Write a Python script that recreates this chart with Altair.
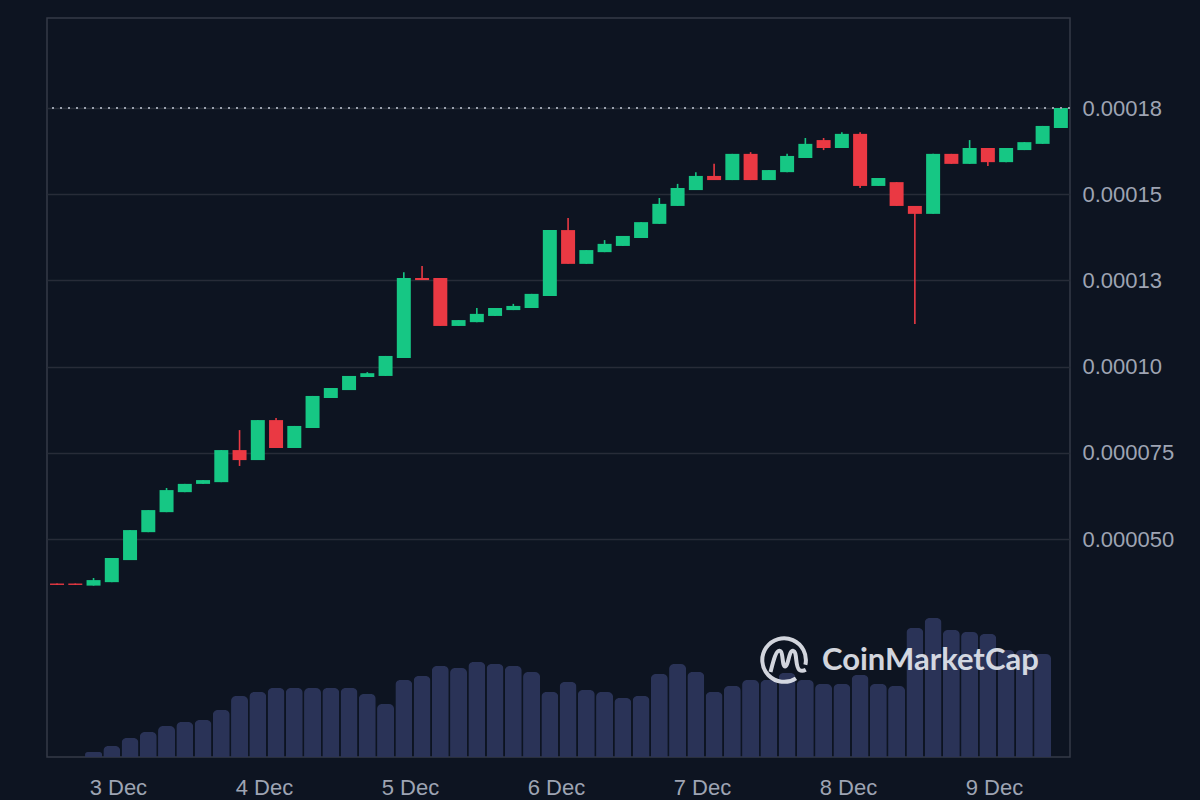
import altair as alt
import pandas as pd
from datetime import datetime, timedelta

# ---- data (prices in units of 1e-6) ----
opens = [37.1, 37.1, 36.5, 37.5, 43.9, 52.0, 57.8, 63.6, 66.0, 66.5,
         75.8, 72.9, 84.5, 76.4, 82.2, 90.9, 93.2, 97.0, 97.3, 102.5,
         125.7, 125.7, 111.8, 112.9, 114.7, 116.4, 117.0, 120.5, 139.6, 129.8,
         133.2, 135.0, 137.3, 141.4, 146.6, 151.2, 155.3, 154.1, 161.7, 154.1,
         156.4, 160.5, 165.7, 163.4, 167.5, 152.4, 153.5, 146.6, 144.3, 161.7,
         158.8, 163.4, 159.3, 162.8, 164.6, 169.2]
closes = [36.7, 36.7, 38.1, 44.5, 52.6, 58.4, 64.2, 66.0, 67.1, 75.8,
          72.9, 84.5, 76.4, 82.8, 91.5, 93.8, 97.3, 98.1, 103.1, 125.7,
          125.1, 111.8, 113.5, 115.3, 117.0, 117.6, 121.1, 139.6, 129.8, 133.8,
          135.6, 137.9, 141.9, 147.2, 151.8, 155.3, 154.1, 161.7, 154.1, 157.0,
          161.1, 164.6, 163.4, 167.5, 152.4, 154.7, 146.6, 144.3, 161.7, 158.8,
          163.4, 159.3, 163.4, 165.1, 169.8, 175.0]
highs = [37.1, 37.1, 38.7, 44.5, 52.6, 58.4, 64.8, 66.0, 67.1, 75.8,
         81.6, 84.5, 85.1, 82.8, 91.5, 93.8, 97.3, 98.4, 103.1, 127.4,
         129.2, 125.7, 113.5, 117.0, 117.0, 118.2, 121.1, 139.6, 143.1, 133.8,
         136.7, 137.9, 141.9, 148.9, 153.0, 156.4, 158.8, 161.7, 162.2, 157.0,
         161.7, 166.3, 166.3, 168.0, 168.0, 154.7, 153.5, 146.6, 161.7, 161.7,
         165.7, 163.4, 163.4, 165.1, 169.8, 175.0]
lows = [36.7, 36.7, 36.5, 37.5, 43.9, 52.0, 57.8, 63.6, 66.0, 66.5,
        71.2, 72.9, 76.4, 76.4, 82.2, 90.9, 93.2, 97.0, 97.3, 102.5,
        125.1, 111.8, 111.8, 112.9, 114.7, 116.4, 117.0, 120.5, 129.8, 129.8,
        133.2, 135.0, 137.3, 141.4, 146.6, 151.2, 154.1, 154.1, 154.1, 154.1,
        156.4, 160.5, 162.8, 163.4, 151.8, 152.4, 146.6, 112.4, 144.3, 158.8,
        158.8, 158.2, 159.3, 162.8, 164.6, 169.2]
volumes = [0, 0, 0.5, 1.1, 1.9, 2.5, 3.1, 3.5, 3.7, 4.7,
           6.1, 6.5, 6.9, 6.9, 6.9, 6.9, 6.9, 6.3, 5.3, 7.7,
           8.1, 9.1, 8.9, 9.5, 9.3, 9.1, 8.5, 6.5, 7.5, 6.7,
           6.5, 5.9, 6.1, 8.3, 9.3, 8.5, 6.5, 7.1, 7.7, 7.7,
           8.4, 7.7, 7.3, 7.3, 8.2, 7.3, 7.1, 12.9, 13.9, 12.7,
           12.5, 12.3, 10.7, 10.7, 10.3, 0]

start = datetime(2024, 12, 2, 14, 0)
times = [(start + timedelta(hours=3 * i)).strftime("%Y-%m-%dT%H:%M:%SZ") for i in range(len(opens))]

tick_values = [50, 75, 100, 125, 150, 175]
tick_labels = ["0.000050", "0.000075", "0.00010", "0.00013", "0.00015", "0.00018"]
day_ticks = [3, 4, 5, 6, 7, 8, 9]

scale_factor = 1e-6
df = pd.DataFrame({
    "t": times,
    "open": [v * scale_factor for v in opens],
    "close": [v * scale_factor for v in closes],
    "high": [v * scale_factor for v in highs],
    "low": [v * scale_factor for v in lows],
    "volume": volumes,
})
df["up"] = df["close"] >= df["open"]

GREEN = "#16c784"
RED = "#ea3943"
BG = "#0d1421"
TXT = "#9ea4b3"

x_scale = alt.Scale(type="utc", domain=["2024-12-02T12:21:00Z", "2024-12-09T12:30:00Z"], padding=0)
x_axis = alt.Axis(
    values=[alt.DateTime(year=2024, month=12, date=d, hours=0, utc=True) for d in day_ticks],
    labelExpr="utcFormat(datum.value, '%-d %b')",
    grid=False, ticks=False, domain=False,
    labelFont="Liberation Sans", labelFontSize=22, labelColor=TXT, labelPadding=20,
    title=None,
)

label_expr = " : ".join(
    [f"abs(datum.value - {v * scale_factor}) < 1e-9 ? '{lab}'" for v, lab in zip(tick_values, tick_labels)]
) + " : ''"

price_scale = alt.Scale(domain=[-13.2e-6, 201.1e-6], nice=False, zero=False, padding=0)
price_axis = alt.Axis(
    orient="right", values=[v * scale_factor for v in tick_values], labelExpr=label_expr,
    grid=True, gridColor="#272c38", gridWidth=1.5, ticks=False, domain=False,
    labelFont="Liberation Sans", labelFontSize=22, labelColor=TXT, labelPadding=12,
    title=None,
)

base = alt.Chart(df)

volume = base.mark_bar(width=17, color="#2a3357", cornerRadiusTopLeft=5, cornerRadiusTopRight=5).encode(
    x=alt.X("t:T", scale=x_scale, axis=x_axis),
    y=alt.Y("volume:Q", scale=alt.Scale(domain=[0, 73.9], nice=False, padding=0), axis=None),
)

wicks = base.mark_rule(strokeWidth=1.6).encode(
    x=alt.X("t:T", scale=x_scale, axis=x_axis),
    y=alt.Y("low:Q", scale=price_scale, axis=price_axis),
    y2="high:Q",
    color=alt.condition("datum.up", alt.value(GREEN), alt.value(RED)),
)
bodies = base.mark_bar(width=14).encode(
    x=alt.X("t:T", scale=x_scale),
    y=alt.Y("open:Q", scale=price_scale),
    y2="close:Q",
    color=alt.condition("datum.up", alt.value(GREEN), alt.value(RED)),
)
last_price = pd.DataFrame({"price": [closes[-1] * scale_factor]})
price_line = alt.Chart(last_price).mark_rule(color="#9aa1ae", strokeWidth=2, strokeDash=[2, 6]).encode(
    y=alt.Y("price:Q", scale=price_scale),
)

logo_path = ("M 0.55 0.84 A 1 1 0 1 1 0.98 0.22 "
             "M -0.62 0.55 C -0.5 0.1 -0.38 -0.45 -0.2 -0.42 C -0.02 -0.4 -0.1 0.3 0.05 0.3 "
             "C 0.2 0.3 0.22 -0.45 0.42 -0.42 C 0.62 -0.38 0.5 0.3 0.7 0.45 C 0.8 0.52 0.9 0.5 1.0 0.45")
logo = alt.Chart(last_price).mark_point(
    shape=logo_path, size=1900, filled=False, strokeWidth=4, color="#e3e6ee", opacity=0.92
).encode(x=alt.value(737), y=alt.value(642))
wm_text = alt.Chart(last_price).mark_text(
    text="CoinMarketCap", font="Lato", fontWeight="bold", fontSize=31, color="#e3e6ee",
    opacity=0.92, align="left", baseline="middle"
).encode(x=alt.value(775), y=alt.value(643))

price_layer = alt.layer(wicks, bodies, price_line)
chart = alt.layer(volume, price_layer, logo, wm_text).resolve_scale(y="independent").properties(
    width=1023, height=739, background=BG,
    padding={"left": 47, "top": 18, "right": 130, "bottom": 43},
    autosize=alt.AutoSizeParams(type="none"),
).configure_view(stroke="#353a47", strokeWidth=1.5)

chart.save("out.html", embed_options={"renderer": "svg", "actions": False})
